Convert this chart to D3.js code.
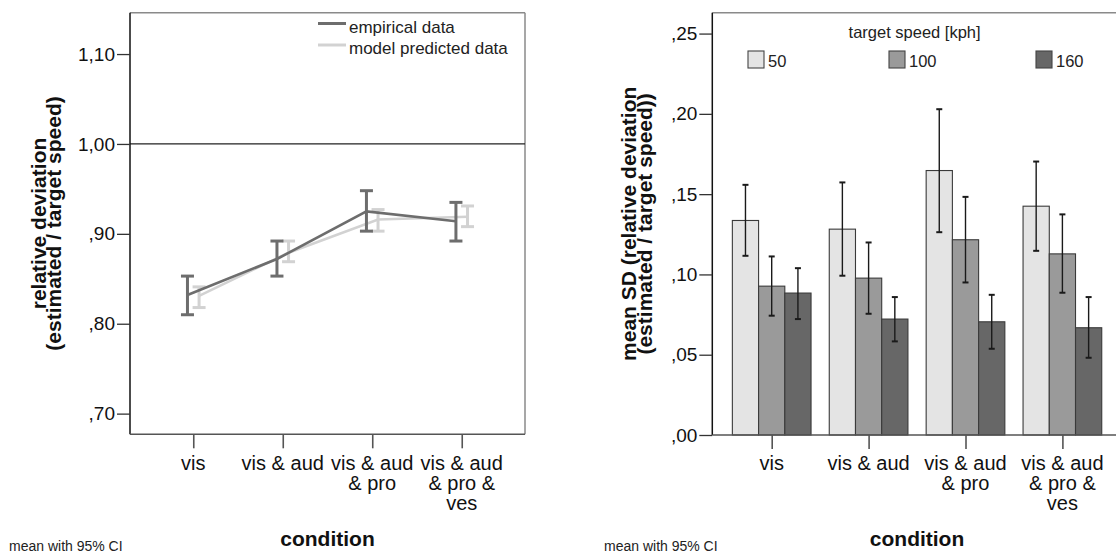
<!DOCTYPE html>
<html><head><meta charset="utf-8">
<script src="https://cdn.jsdelivr.net/npm/d3@7"></script>
<style>
body{margin:0;background:#fff}
svg{display:block;font-family:"Liberation Sans",Arial,sans-serif}
</style>
</head><body>
<svg id="chart" width="1116" height="555"></svg>
<script>
// ---------- data ----------
const conditions = ["vis", "vis & aud", "vis & aud & pro", "vis & aud & pro & ves"];
const conditionLabelLines = [["vis"], ["vis & aud"], ["vis & aud", "& pro"], ["vis & aud", "& pro &", "ves"]];

// left chart: relative deviation (mean with 95% CI)
const seriesNames = ["empirical data", "model predicted data"];
const empMean = [0.832, 0.872, 0.925, 0.914];
const empLow  = [0.810, 0.853, 0.903, 0.892];
const empHigh = [0.853, 0.892, 0.948, 0.935];
const modMean = [0.831, 0.879, 0.916, 0.919];
const modLow  = [0.818, 0.869, 0.903, 0.908];
const modHigh = [0.841, 0.892, 0.927, 0.931];
const leftTicks = [0.70, 0.80, 0.90, 1.00, 1.10];
const leftTickLabels = [",70", ",80", ",90", "1,00", "1,10"];

// right chart: mean SD by target speed (mean with 95% CI)
const speeds = ["50", "100", "160"];
const sdMean = {
  "50":  [0.1336, 0.1282, 0.1647, 0.1425],
  "100": [0.0927, 0.0977, 0.1216, 0.1128],
  "160": [0.0884, 0.0722, 0.0705, 0.0668]
};
const sdLow = {
  "50":  [0.1116, 0.0992, 0.1263, 0.1147],
  "100": [0.0743, 0.0755, 0.0950, 0.0886],
  "160": [0.0722, 0.0583, 0.0537, 0.0481]
};
const sdHigh = {
  "50":  [0.1558, 0.1573, 0.2029, 0.1703],
  "100": [0.1112, 0.1199, 0.1483, 0.1374],
  "160": [0.1039, 0.0859, 0.0873, 0.0859]
};
const rightTicks = [0, 0.05, 0.10, 0.15, 0.20, 0.25];
const rightTickLabels = [",00", ",05", ",10", ",15", ",20", ",25"];

// ---------- drawing ----------
const svg = d3.select("#chart");
const tickFont = 19, catFont = 20, titleFont = 21;

// ===== LEFT CHART =====
const L = {x0: 130, x1: 525, y0: 12.7, y1: 434.3};
const xL = d3.scalePoint().domain(conditions).range([L.x0, L.x1]).padding(0.707);
const yL = d3.scaleLinear().domain([0.677, 1.146]).range([L.y1, L.y0]);

// box top/right
svg.append("line").attr("x1", L.x0).attr("x2", L.x1).attr("y1", L.y0).attr("y2", L.y0)
  .attr("stroke", "#8a8a8a").attr("stroke-width", 1.5);
svg.append("line").attr("x1", L.x1).attr("x2", L.x1).attr("y1", L.y0).attr("y2", L.y1)
  .attr("stroke", "#8a8a8a").attr("stroke-width", 1.5);

// reference line at 1.00
svg.append("line").attr("x1", L.x0).attr("x2", L.x1).attr("y1", yL(1)).attr("y2", yL(1))
  .attr("stroke", "#222").attr("stroke-width", 1.2);

// y axis
const yAxisL = d3.axisLeft(yL).tickValues(leftTicks).tickSize(13).tickSizeOuter(0)
  .tickFormat((d, i) => leftTickLabels[i]);
const gyL = svg.append("g").attr("transform", `translate(${L.x0},0)`).call(yAxisL);
gyL.select(".domain").attr("d", `M0,${L.y0}V${L.y1}`).attr("stroke", "#111").attr("stroke-width", 1.5);
gyL.selectAll(".tick line").attr("stroke", "#333").attr("stroke-width", 1.3);
gyL.selectAll(".tick text").attr("font-size", tickFont).attr("fill", "#111").attr("x", -15)
  .attr("font-family", "Liberation Sans, Arial, sans-serif");

// x axis
const xAxisL = d3.axisBottom(xL).tickSize(14).tickSizeOuter(0).tickFormat("");
const gxL = svg.append("g").attr("transform", `translate(0,${L.y1})`).call(xAxisL);
gxL.select(".domain").attr("d", `M${L.x0},0H${L.x1}`).attr("stroke", "#555").attr("stroke-width", 1.5);
gxL.selectAll(".tick line").attr("stroke", "#555").attr("stroke-width", 1.6);

function catLabels(xs, centerFn) {
  const g = svg.append("g");
  conditions.forEach((c, i) => {
    const t = g.append("text").attr("text-anchor", "middle").attr("font-size", catFont).attr("fill", "#111");
    conditionLabelLines[i].forEach((ln, j) => {
      t.append("tspan").attr("x", centerFn(c)).attr("y", 470 + j * 20).text(ln);
    });
  });
}
catLabels(xL, c => xL(c));

// lines + error bars
const off = 5.8;
const leftSeries = [
  {name: seriesNames[0], mean: empMean, lo: empLow, hi: empHigh, color: "#6d6d6d", dx: -off},
  {name: seriesNames[1], mean: modMean, lo: modLow, hi: modHigh, color: "#d2d2d2", dx: off}
];
// draw model first so empirical is on top
[leftSeries[1], leftSeries[0]].forEach(s => {
  const pts = conditions.map((c, i) => [xL(c) + s.dx, yL(s.mean[i])]);
  svg.append("path").attr("d", d3.line()(pts)).attr("fill", "none")
    .attr("stroke", s.color).attr("stroke-width", 2.6);
  const g = svg.append("g").attr("stroke", s.color).attr("stroke-width", 3);
  conditions.forEach((c, i) => {
    const x = xL(c) + s.dx;
    g.append("line").attr("x1", x).attr("x2", x).attr("y1", yL(s.lo[i])).attr("y2", yL(s.hi[i]));
    g.append("line").attr("x1", x - 6.5).attr("x2", x + 6.5).attr("y1", yL(s.lo[i])).attr("y2", yL(s.lo[i]));
    g.append("line").attr("x1", x - 6.5).attr("x2", x + 6.5).attr("y1", yL(s.hi[i])).attr("y2", yL(s.hi[i]));
  });
});

// legend (left)
leftSeries.forEach((s, i) => {
  const y = 23.5 + i * 21.5;
  svg.append("line").attr("x1", 318).attr("x2", 346).attr("y1", y).attr("y2", y)
    .attr("stroke", s.color).attr("stroke-width", 3);
  svg.append("text").attr("x", 349).attr("y", y + 9).attr("font-size", 17).attr("fill", "#222").text(s.name);
});

// axis titles (left)
const ytL = svg.append("text").attr("transform", `translate(0,${(L.y0 + L.y1) / 2}) rotate(-90)`)
  .attr("text-anchor", "middle").attr("font-weight", "bold").attr("font-size", titleFont).attr("fill", "#111");
ytL.append("tspan").attr("x", 0).attr("y", 46).text("relative deviation");
ytL.append("tspan").attr("x", 0).attr("y", 61).text("(estimated / target speed)");
svg.append("text").attr("x", (L.x0 + L.x1) / 2).attr("y", 545.5).attr("text-anchor", "middle")
  .attr("font-weight", "bold").attr("font-size", titleFont).attr("fill", "#111").text("condition");
svg.append("text").attr("x", 9).attr("y", 551).attr("font-size", 14).attr("fill", "#222").text("mean with 95% CI");

// ===== RIGHT CHART =====
const R = {x0: 712.3, x1: 1121.8, y0: 12.7, y1: 435};
const xR = d3.scaleBand().domain(conditions).range([R.x0, R.x1]).paddingInner(0.188).paddingOuter(0.207);
const xSub = d3.scaleBand().domain(speeds).range([0, xR.bandwidth()]);
const yR = d3.scaleLinear().domain([0, 0.263]).range([R.y1, R.y0]);
const colors = {"50": "#e4e4e4", "100": "#9a9a9a", "160": "#676767"};

svg.append("line").attr("x1", R.x0).attr("x2", R.x1).attr("y1", R.y0).attr("y2", R.y0)
  .attr("stroke", "#8a8a8a").attr("stroke-width", 1.5);

// bars
const gb = svg.append("g");
conditions.forEach((c, i) => {
  speeds.forEach(s => {
    gb.append("rect").attr("x", xR(c) + xSub(s)).attr("width", xSub.bandwidth())
      .attr("y", yR(sdMean[s][i])).attr("height", yR(0) - yR(sdMean[s][i]))
      .attr("fill", colors[s]).attr("stroke", "#3a3a3a").attr("stroke-width", 1.1);
  });
});
// error bars
const ge = svg.append("g").attr("stroke", "#1a1a1a").attr("stroke-width", 1.4);
conditions.forEach((c, i) => {
  speeds.forEach(s => {
    const x = xR(c) + xSub(s) + xSub.bandwidth() / 2;
    ge.append("line").attr("x1", x).attr("x2", x).attr("y1", yR(sdLow[s][i])).attr("y2", yR(sdHigh[s][i]));
    ge.append("line").attr("x1", x - 3).attr("x2", x + 3).attr("y1", yR(sdLow[s][i])).attr("y2", yR(sdLow[s][i])).attr("stroke-width", 2);
    ge.append("line").attr("x1", x - 3).attr("x2", x + 3).attr("y1", yR(sdHigh[s][i])).attr("y2", yR(sdHigh[s][i])).attr("stroke-width", 2);
  });
});

const yAxisR = d3.axisLeft(yR).tickValues(rightTicks).tickSize(13).tickSizeOuter(0)
  .tickFormat((d, i) => rightTickLabels[i]);
const gyR = svg.append("g").attr("transform", `translate(${R.x0},0)`).call(yAxisR);
gyR.select(".domain").attr("d", `M0,${R.y0}V${R.y1}`).attr("stroke", "#111").attr("stroke-width", 1.5);
gyR.selectAll(".tick line").attr("stroke", "#333").attr("stroke-width", 1.3);
gyR.selectAll(".tick text").attr("font-size", tickFont).attr("fill", "#111").attr("x", -15)
  .attr("font-family", "Liberation Sans, Arial, sans-serif");

const centerR = c => xR(c) + xR.bandwidth() / 2;
const xAxisR = d3.axisBottom(d3.scalePoint().domain(conditions).range([centerR(conditions[0]), centerR(conditions[3])]))
  .tickSize(14).tickSizeOuter(0).tickFormat("");
const gxR = svg.append("g").attr("transform", `translate(0,${R.y1})`).call(xAxisR);
gxR.select(".domain").attr("d", `M${R.x0},0H${R.x1}`).attr("stroke", "#555").attr("stroke-width", 1.5);
gxR.selectAll(".tick line").attr("stroke", "#555").attr("stroke-width", 1.6);
catLabels(xR, centerR);

// legend (right)
svg.append("text").attr("x", 914.6).attr("y", 38).attr("text-anchor", "middle").attr("font-size", 16.5)
  .attr("fill", "#222").text("target speed [kph]");
const legX = [748, 889, 1036];
speeds.forEach((s, i) => {
  svg.append("rect").attr("x", legX[i]).attr("y", 51).attr("width", 16).attr("height", 17)
    .attr("fill", colors[s]).attr("stroke", "#444").attr("stroke-width", 1.1);
  svg.append("text").attr("x", legX[i] + 20).attr("y", 67).attr("font-size", 16.5).attr("fill", "#222").text(s);
});

const ytR = svg.append("text").attr("transform", `translate(0,${(R.y0 + R.y1) / 2}) rotate(-90)`)
  .attr("text-anchor", "middle").attr("font-weight", "bold").attr("font-size", titleFont).attr("fill", "#111");
ytR.append("tspan").attr("x", 0).attr("y", 636).text("mean SD (relative deviation");
ytR.append("tspan").attr("x", 0).attr("y", 652).text("(estimated / target speed))");
svg.append("text").attr("x", (R.x0 + R.x1) / 2).attr("y", 545.5).attr("text-anchor", "middle")
  .attr("font-weight", "bold").attr("font-size", titleFont).attr("fill", "#111").text("condition");
svg.append("text").attr("x", 604).attr("y", 551).attr("font-size", 14).attr("fill", "#222").text("mean with 95% CI");
</script>
</body></html>
